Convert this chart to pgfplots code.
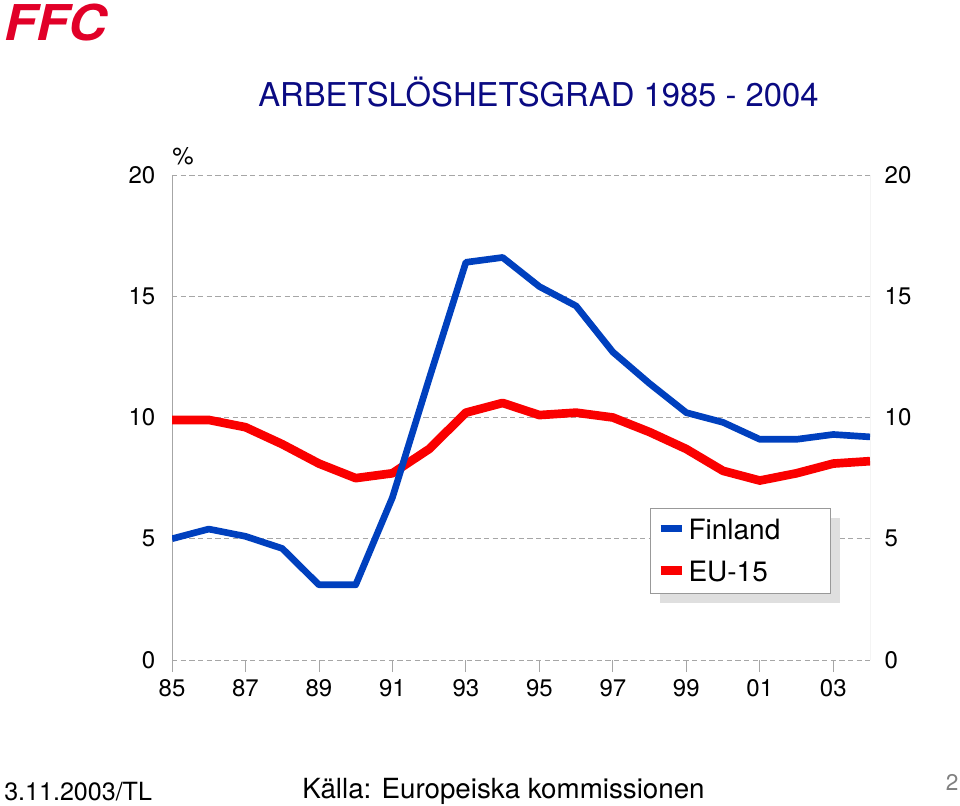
\documentclass[border=0pt]{standalone}
\usepackage{pgfplots}
\pgfplotsset{compat=1.18}
\usepackage{fontspec}
\setmainfont{TeX Gyre Heros}
\definecolor{fiblue}{RGB}{0,64,190}
\definecolor{eured}{RGB}{250,0,0}
\definecolor{titleblue}{RGB}{10,10,130}
\definecolor{logored}{RGB}{225,0,40}
\begin{document}
\begin{tikzpicture}
\useasboundingbox (0,0) rectangle (720pt,-604.5pt);
% logo
\node[anchor=base west, inner sep=0pt, text=logored, font=\fontsize{37}{38}\selectfont\bfseries\itshape] at (3pt,-30.5pt) {\scalebox{1.07}[1]{FFC}};
% title
\node[anchor=base west, inner sep=0pt, text=titleblue, font=\fontsize{24.6}{28}\selectfont] at (193.5pt,-80.25pt) {ARBETSLÖSHETSGRAD 1985 - 2004};
% percent sign
\node[anchor=base west, inner sep=0pt, font=\fontsize{18}{20}\selectfont] at (129pt,-123.5pt) {\%};
% footer
\node[anchor=base west, inner sep=0pt, font=\fontsize{18.8}{20}\selectfont] at (3pt,-600pt) {3.11.2003/TL};
\node[anchor=base west, inner sep=0pt, font=\fontsize{20.8}{22}\selectfont] at (226.5pt,-599pt) {Källa: Europeiska kommissionen};
\node[anchor=base east, inner sep=0pt, text=gray, font=\fontsize{17}{18}\selectfont] at (719pt,-592.5pt) {2};

\begin{axis}[
  at={(129pt,-495pt)}, anchor=south west,
  scale only axis, width=523.5pt, height=363.75pt,
  xmin=1985, xmax=2004, ymin=0, ymax=20,
  axis line style={draw=none},
  xtick={1985,1987,...,2003},
  xticklabels={85,87,89,91,93,95,97,99,01,03},
  xtick pos=bottom, tick align=outside,
  major tick length=9pt,
  xtick style={draw=gray!70, line width=0.6pt},
  ytick={0,5,10,15,20},
  ytick style={draw=none},
  ymajorgrids,
  grid style={draw=gray!70, dash pattern=on 4pt off 2.5pt, line width=0.6pt},
  ticklabel style={font=\fontsize{18}{20}\selectfont},
  /pgf/number format/assume math mode=true,
  xticklabel style={yshift=-2pt},
  yticklabel style={xshift=0pt},
  legend style={at={(0.6935,0.297)}, anchor=north west, draw=none, fill=none,
    font=\fontsize{21}{22}\selectfont, inner xsep=0pt, inner ysep=0pt, row sep=10.5pt},
  legend cell align=left,
  reverse legend,
  legend image code/.code={\draw[#1] (0cm,0.04cm) -- (0.55cm,0.04cm);},
]
\draw[gray!70, line width=0.6pt] (rel axis cs:0,0) -- (rel axis cs:0,1);
\draw[gray!70, line width=0.6pt] (rel axis cs:1,0) -- (rel axis cs:1,1);
% legend shadow and box
\fill[gray!25] (rel axis cs:0.6991,0.1175) rectangle (rel axis cs:0.9570,0.2928);
\filldraw[fill=white, draw=gray!80, line width=0.6pt] (rel axis cs:0.6848,0.1381) rectangle (rel axis cs:0.9427,0.3134);
\addplot[eured, line width=6.5pt, line join=round] coordinates {
(1985,9.9)(1986,9.9)(1987,9.6)(1988,8.9)(1989,8.1)(1990,7.5)(1991,7.7)(1992,8.7)(1993,10.2)(1994,10.6)
(1995,10.1)(1996,10.2)(1997,10.0)(1998,9.4)(1999,8.7)(2000,7.8)(2001,7.4)(2002,7.7)(2003,8.1)(2004,8.2)};
\addlegendentry{EU-15}
\addplot[fiblue, line width=5pt, line join=round] coordinates {
(1985,5.0)(1986,5.4)(1987,5.1)(1988,4.6)(1989,3.1)(1990,3.1)(1991,6.7)(1992,11.6)(1993,16.4)(1994,16.6)
(1995,15.4)(1996,14.6)(1997,12.7)(1998,11.4)(1999,10.2)(2000,9.8)(2001,9.1)(2002,9.1)(2003,9.3)(2004,9.2)};
\addlegendentry{Finland}
\end{axis}
\begin{axis}[
  at={(129pt,-495pt)}, anchor=south west,
  scale only axis, width=523.5pt, height=363.75pt,
  xmin=1985, xmax=2004, ymin=0, ymax=20,
  axis line style={draw=none},
  xtick=\empty,
  ytick={0,5,10,15,20},
  yticklabel pos=right,
  ytick style={draw=none},
  ticklabel style={font=\fontsize{18}{20}\selectfont},
  /pgf/number format/assume math mode=true,
  yticklabel style={xshift=7.5pt},
]
\end{axis}
\end{tikzpicture}
\end{document}
